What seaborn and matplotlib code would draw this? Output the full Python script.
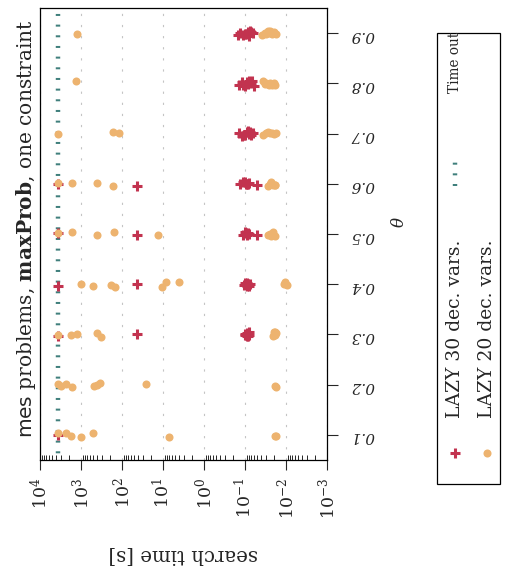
import numpy as np
import pandas as pd
import matplotlib
matplotlib.use("Agg")
import matplotlib.pyplot as plt
import seaborn as sns
from matplotlib.lines import Line2D
from matplotlib.patches import Rectangle
from matplotlib.ticker import LogLocator, NullFormatter

# ---------------------------------------------------------------- data
thetas = ["0.1", "0.2", "0.3", "0.4", "0.5", "0.6", "0.7", "0.8", "0.9"]
TIMEOUT = 3600  # seconds; unfinished runs are plotted at the limit

# search times [s] per theta, LAZY with 30 decision variables
lazy30_times = [
    [3600],                                                            # 0.1
    [],                                                                # 0.2
    [3600, 43, 0.10, 0.095, 0.09, 0.085, 0.082, 0.08, 0.10, 0.088],    # 0.3
    [3600, 43, 0.105, 0.10, 0.095, 0.09, 0.088, 0.085, 0.08, 0.077],   # 0.4
    [3600, 43, 0.11, 0.10, 0.095, 0.09, 0.088, 0.085, 0.08, 0.052],    # 0.5
    [3600, 43, 0.13, 0.11, 0.10, 0.095, 0.09, 0.085, 0.08, 0.05],      # 0.6
    [0.14, 0.12, 0.105, 0.10, 0.09, 0.085, 0.08, 0.075, 0.07, 0.065],  # 0.7
    [0.14, 0.12, 0.11, 0.10, 0.09, 0.085, 0.08, 0.072, 0.066, 0.06],   # 0.8
    [0.15, 0.13, 0.11, 0.10, 0.095, 0.085, 0.08, 0.075, 0.07, 0.065],  # 0.9
]

# search times [s] per theta, LAZY with 20 decision variables
lazy20_times = [
    [3600, 2300, 1740, 1020, 515, 7.0, 0.019, 0.018],                   # 0.1
    [3600, 3100, 2300, 1630, 490, 410, 340, 25.7, 0.019, 0.018],        # 0.2
    [3600, 1740, 1240, 415, 325, 0.021, 0.020, 0.019, 0.0185, 0.018],   # 0.3
    [1020, 515, 186, 145, 10.7, 8.4, 4.0, 0.011, 0.0105, 0.0095],       # 0.4
    [3600, 1630, 415, 160, 13.4, 0.028, 0.025, 0.023, 0.021, 0.019],    # 0.5
    [3600, 1630, 415, 166, 0.028, 0.025, 0.023, 0.021, 0.019, 0.0185],  # 0.6
    [3600, 166, 120, 0.036, 0.030, 0.027, 0.025, 0.022, 0.020, 0.018],  # 0.7
    [1350, 0.036, 0.033, 0.030, 0.028, 0.026, 0.024, 0.022, 0.020, 0.019],  # 0.8
    [1240, 0.038, 0.033, 0.030, 0.028, 0.026, 0.024, 0.022, 0.020, 0.018],  # 0.9
]

x_ticks = [1e4, 1e3, 1e2, 1e1, 1e0, 1e-1, 1e-2, 1e-3]

title_text = r"$\mathsf{mes}$ problems, $\mathbf{maxProb}$, one constraint"
label_30 = "LAZY 30 dec. vars."
label_20 = "LAZY 20 dec. vars."
label_timeout = "Time out"


def to_frame(times):
    rows = [(t, v) for t, vals in zip(thetas, times) for v in vals]
    return pd.DataFrame(rows, columns=["theta", "time"])


df30 = to_frame(lazy30_times)
df20 = to_frame(lazy20_times)

# ---------------------------------------------------------------- style
RED = "#C2334F"
ORANGE = "#EDB36F"
TEAL = "#3F7F7C"

sns.set_style("ticks")
plt.rcParams.update({
    "font.family": ["DejaVu Serif"],
    "mathtext.fontset": "dejavuserif",
    "axes.linewidth": 0.9,
    "axes.edgecolor": "black",
})

W, H = 507, 570
fig = plt.figure(figsize=(W / 100, H / 100), dpi=100)
ax = fig.add_axes([40 / W, 110 / H, 287 / W, 452 / H])


def fx(px):
    return px / W


def fy(py):
    return 1 - py / H


order = thetas[::-1]  # highest theta on top
np.random.seed(4)

ax.axvline(TIMEOUT, color=TEAL, lw=3.2,
           linestyle=(0.89, (0.45, 1.95)), zorder=1.5)

sns.stripplot(data=df30, x="time", y="theta", order=order, log_scale=True,
              marker="+", color=RED, size=7.9, linewidth=2.2, jitter=0.05,
              ax=ax, zorder=3)
sns.stripplot(data=df20, x="time", y="theta", order=order,
              marker="o", color=ORANGE, size=5.8, linewidth=0, jitter=0.05,
              ax=ax, zorder=4)

# time axis: decreasing from left to right
ax.set_xscale("log")
ax.set_xlim(1e4, 1e-3)
ax.set_xticks(x_ticks)
ax.xaxis.set_minor_locator(LogLocator(base=10, subs=np.arange(2, 10), numticks=20))
ax.xaxis.set_minor_formatter(NullFormatter())
ax.tick_params(axis="x", which="major", direction="out", length=7.2, width=0.8,
               pad=5.5, labelsize=12.5, labelrotation=90, top=False)
ax.tick_params(axis="x", which="minor", direction="in", length=3.6, width=0.7,
               top=False)
ax.grid(axis="x", which="major", color="#c4c4c4", lw=0.8,
        linestyle=(0, (2, 8)))

# theta axis on the right, labels upside down
ax.yaxis.tick_right()
ax.yaxis.set_label_position("right")
ax.tick_params(axis="y", which="major", direction="out", length=8, width=0.8,
               pad=9, labelsize=11, left=False, right=True)
for lab in ax.get_yticklabels():
    lab.set_rotation(180)
    lab.set_fontstyle("italic")

ax.set_xlabel("search time [s]", fontsize=14.2, rotation=180, va="top")
ax.xaxis.set_label_coords(0.5, -0.188)
ax.set_ylabel(r"$\theta$", fontsize=12, rotation=90, va="center", ha="center")
ax.yaxis.set_label_coords((399 - 40) / 287, (460 - 222) / 452)

for side in ["top", "bottom", "left", "right"]:
    ax.spines[side].set_visible(True)
    ax.spines[side].set_color("black")

fig.text(fx(26), fy(229), title_text, rotation=90, ha="center", va="center",
         fontsize=14.5)

# legend box drawn in the same rotated orientation as the plot
fig.add_artist(Rectangle((fx(437), fy(484)), fx(500) - fx(437), fy(33) - fy(484),
                         transform=fig.transFigure, fill=False,
                         edgecolor="black", lw=0.9))
fig.add_artist(Line2D([fx(455)], [fy(453)], marker="+", color=RED,
                      markersize=7.9, markeredgewidth=2.2, linestyle="none",
                      transform=fig.transFigure))
fig.add_artist(Line2D([fx(487)], [fy(453)], marker="o", color=ORANGE,
                      markersize=5.8, markeredgewidth=0, linestyle="none",
                      transform=fig.transFigure))
fig.add_artist(Line2D([fx(455), fx(455)], [fy(185.5), fy(157.5)], color=TEAL,
                      lw=3.2, linestyle=(0, (0.45, 1.95)),
                      transform=fig.transFigure))
fig.text(fx(455), fy(418), label_30, rotation=90, ha="center", va="bottom",
         fontsize=13.5)
fig.text(fx(487), fy(418), label_20, rotation=90, ha="center", va="bottom",
         fontsize=13.5)
fig.text(fx(455), fy(93), label_timeout, rotation=90, ha="center", va="bottom",
         fontsize=9.8)

fig.savefig("out.png", dpi=100)
